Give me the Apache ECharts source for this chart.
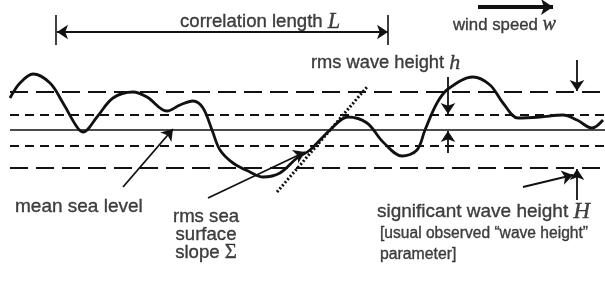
<!DOCTYPE html>
<html>
<head>
<meta charset="utf-8">
<script src="https://cdn.jsdelivr.net/npm/echarts@6/dist/echarts.min.js"></script>
<style>
html, body { margin: 0; padding: 0; background: #fff; }
#main { width: 605px; height: 282px; }
</style>
</head>
<body>
<div id="main"></div>
<script>
// sea surface profile (x to the right, y downwards)
var waveX = [10, 20, 33, 50, 63, 77, 83, 97, 113, 133, 147, 167, 180, 193, 203, 212, 220, 233, 250, 263, 280, 297, 310, 330, 348, 367, 383, 402, 417, 425, 437, 448, 473, 490, 503, 518, 540, 563, 577, 592, 603];
var waveY = [98, 83, 74, 83, 103, 127, 132, 117, 98, 92, 97, 111, 105, 101, 108, 130, 150, 163, 172, 177, 173, 158, 150, 130, 117, 123, 142, 156, 150, 130, 103, 89, 77, 85, 103, 118, 117, 115, 120, 128, 120];

// reference levels
var meanLevel = 130;
var rmsLevels = [115, 146];
var sigLevels = [92, 168];
var levelFrom = 10, levelTo = 605;

// tangent (slope) dotted line
var slopeLine = [[277, 192], [367, 87]];

// arrows: [from, to]
var arrowsOneWay = [
  [[123, 187], [173, 129]],   // mean sea level
  [[208, 198], [305, 152]],   // rms slope
  [[448, 77], [448, 114]],    // h down
  [[448, 153], [448, 131]],   // h up
  [[577, 60], [577, 91]],     // H down
  [[577, 200], [577, 169]],   // H up
  [[523, 187], [573, 175]]    // H pointer
];
var arrowBoth = [[57, 32], [388, 32]];
var windArrow = [[478, 7], [553, 7]];
var ticks = [[[56, 15], [56, 45]], [[388, 15], [388, 45]]];

// labels
var labelText = [
  '{t|correlation length }{m|L}',
  '{t|wind speed }{m|w}',
  '{t|rms wave height }{m|h}',
  '{t|mean sea level}',
  '{t|rms sea}',
  '{t|surface}',
  '{t|slope }{g|Σ}',
  '{t|significant wave height }{m|H}',
  '{t|[usual observed “wave height”}',
  '{t|parameter]}'
];
var labelPos = [[180, 22], [453, 25], [311, 63], [15, 207], [206, 217], [206, 235], [206, 253], [377, 212], [380, 234], [380, 255]];
var labelAlign = ['left', 'left', 'left', 'left', 'center', 'center', 'center', 'left', 'left', 'left'];
var labelSize = [18.6, 16.8, 18.3, 19, 18.6, 18.6, 18.6, 19, 15.6, 15.8];

var ink = '#111';

function hline(y, dash, w) {
  return {
    type: 'line', data: [[levelFrom, y], [levelTo, y]], symbol: 'none', silent: true,
    lineStyle: { color: ink, width: w, type: dash }, z: 1
  };
}

var series = [];
series.push(hline(meanLevel, 'solid', 1.6));
rmsLevels.forEach(function (y) { series.push(hline(y, [9, 6], 2)); });
sigLevels.forEach(function (y) { series.push(hline(y, [18, 8], 2)); });

series.push({
  type: 'line', data: waveX.map(function (x, i) { return [x, waveY[i]]; }),
  smooth: 0.35, symbol: 'none', silent: true,
  lineStyle: { color: ink, width: 2.8 }, z: 3
});

series.push({
  type: 'line', data: slopeLine, symbol: 'none', silent: true,
  lineStyle: { color: ink, width: 3, type: [2, 2] }, z: 2
});

series.push({
  type: 'lines', coordinateSystem: 'cartesian2d', silent: true,
  symbol: ['none', 'arrow'], symbolSize: 11,
  lineStyle: { color: ink, width: 1.8, opacity: 1, curveness: 0 },
  data: arrowsOneWay.map(function (c) { return { coords: c }; }), z: 4
});
series.push({
  type: 'lines', coordinateSystem: 'cartesian2d', silent: true,
  symbol: ['arrow', 'arrow'], symbolSize: 11,
  lineStyle: { color: ink, width: 1.8, opacity: 1 },
  data: [{ coords: arrowBoth }], z: 4
});
series.push({
  type: 'lines', coordinateSystem: 'cartesian2d', silent: true,
  symbol: ['none', 'arrow'], symbolSize: 12,
  lineStyle: { color: ink, width: 4, opacity: 1 },
  data: [{ coords: windArrow }], z: 4
});
series.push({
  type: 'lines', coordinateSystem: 'cartesian2d', silent: true,
  symbol: 'none',
  lineStyle: { color: ink, width: 1.6, opacity: 1 },
  data: ticks.map(function (c) { return { coords: c }; }), z: 4
});

series.push({
  type: 'scatter', symbolSize: 0, silent: true, z: 5,
  itemStyle: { color: 'transparent' },
  data: labelPos.map(function (p, i) {
    var s = labelSize[i];
    var base = { color: ink, textBorderColor: ink, textBorderWidth: 0.35 };
    return {
      value: p,
      label: {
        show: true, position: [0, 0], align: labelAlign[i], verticalAlign: 'middle',
        formatter: labelText[i],
        rich: {
          t: Object.assign({ fontFamily: 'Liberation Sans, Arial, sans-serif', fontSize: s }, base),
          m: Object.assign({ fontFamily: 'Liberation Serif, serif', fontStyle: 'italic', fontSize: s * 1.2 }, base),
          g: Object.assign({ fontFamily: 'Liberation Serif, serif', fontSize: s * 1.12 }, base)
        }
      }
    };
  })
});

var chart = echarts.init(document.getElementById('main'), null, { renderer: 'canvas' });
chart.setOption({
  animation: false,
  backgroundColor: '#fff',
  grid: { left: 0, right: 0, top: 0, bottom: 0 },
  xAxis: { type: 'value', min: 0, max: 605, show: false },
  yAxis: { type: 'value', min: 0, max: 282, inverse: true, show: false },
  series: series
});
</script>
</body>
</html>
